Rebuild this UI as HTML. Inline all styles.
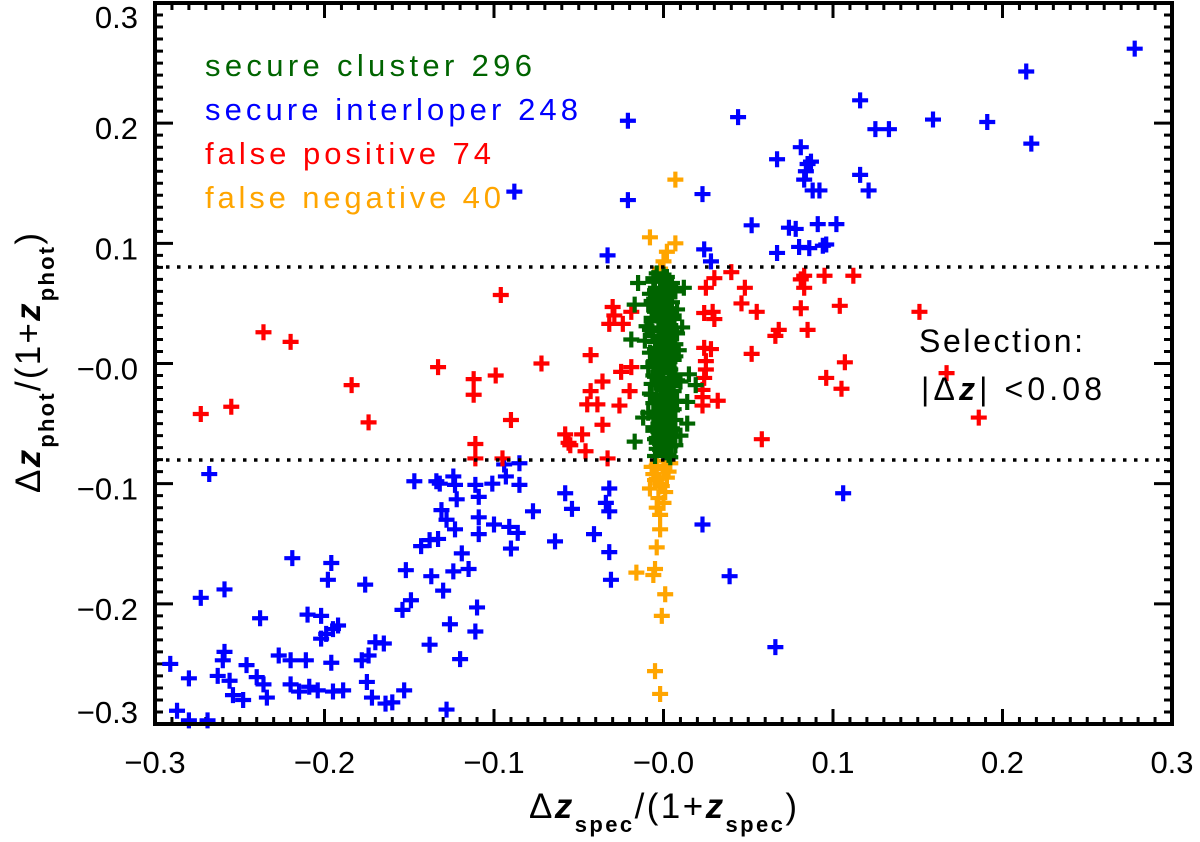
<!DOCTYPE html>
<html><head><meta charset="utf-8"><style>
html,body{margin:0;padding:0;background:#fff;}
svg{display:block;font-family:"Liberation Sans",sans-serif;}
</style></head><body>
<svg id="chart" width="1200" height="842" viewBox="0 0 1200 842" xmlns="http://www.w3.org/2000/svg">
<rect width="1200" height="842" fill="#fff"/>
<g id="ticks"></g>
<g id="points"></g>
<line x1="155" x2="1172" y1="267" y2="267" stroke="#000" stroke-width="3.5" stroke-dasharray="3.5 7.5"/>
<line x1="155" x2="1172" y1="460" y2="460" stroke="#000" stroke-width="3.5" stroke-dasharray="3.5 7.5"/>
<rect x="155" y="3" width="1017" height="721" fill="none" stroke="#000" stroke-width="4"/>
<g id="labels" font-size="31" fill="#000"></g>
<text x="205" y="76" font-size="31" fill="#006400" textLength="327">secure cluster 296</text>
<text x="205" y="120" font-size="31" fill="#0000ff" textLength="373">secure interloper 248</text>
<text x="205" y="164" font-size="31" fill="#ff0000" textLength="286">false positive 74</text>
<text x="205" y="208" font-size="31" fill="#ffa500" textLength="296">false negative 40</text>
<text x="919" y="352" font-size="32" fill="#000" textLength="164">Selection:</text>
<text x="921" y="400" font-size="32" fill="#000" textLength="181">|Δ<tspan font-style="italic" font-weight="bold">z</tspan>| &lt;0.08</text>
<text x="663" y="818" font-size="35" text-anchor="middle" fill="#000" textLength="268">Δ<tspan font-style="italic" font-weight="bold">z</tspan><tspan font-size="22" font-weight="bold" dy="14">spec</tspan><tspan dy="-14">/(1+</tspan><tspan font-style="italic" font-weight="bold">z</tspan><tspan font-size="22" font-weight="bold" dy="14">spec</tspan><tspan dy="-14">)</tspan></text>
<text x="0" y="0" font-size="35" text-anchor="middle" fill="#000" textLength="260" transform="translate(40,363) rotate(-90)">Δ<tspan font-style="italic" font-weight="bold">z</tspan><tspan font-size="22" font-weight="bold" dy="14">phot</tspan><tspan dy="-14">/(1+</tspan><tspan font-style="italic" font-weight="bold">z</tspan><tspan font-size="22" font-weight="bold" dy="14">phot</tspan><tspan dy="-14">)</tspan></text>
</svg>
<script>
const xTickValues=[-0.3,-0.2,-0.1,0,0.1,0.2,0.3];
const xTickLabels=["−0.3","−0.2","−0.1","−0.0","0.1","0.2","0.3"];
const yTickValues=[0.3,0.2,0.1,0,-0.1,-0.2,-0.3];
const yTickLabels=["0.3","0.2","0.1","−0.0","−0.1","−0.2","−0.3"];
const clusterX=[-.004,.002,-.006,.004,-.001,.007,-.008,.001,-.004,.005,-.009,.000,.008,-.005,.003,-.002,.006,-.007,.001,-.010,.004,-.003,.008,-.006,.002,-.011,.000,.005,-.004,.009,-.008,.002,-.002,.006,-.006,.001,-.009,.004,-.003,.007,-.005,.000,.010,-.007,.003,-.001,.006,-.008,.002,-.004,.008,-.006,.001,-.002,.005,-.009,.003,-.004,.007,-.001,.002,-.006,.005,-.003,.000,.006,-.005,.002,-.002,.004,-.004,.001,.003,
.000,-.002,.003,-.005,.002,-.003,.004,-.001,-.007,.003,-.003,.006,-.001,-.005,.004,-.002,.007,-.004,.003,-.001,-.006,.005,-.002,.002,-.003,.004,-.005,.000,-.002,.004,-.004,.001,
-.015,-.017,.012,.015,.019,.014,.014,-.017,-.019,-.012,.011,.010,
-.006,.005,-.002,.003,-.007,.001,-.004,.006,-.001,.004,-.008,.002,-.003,.007,-.005,.000,.005,-.006,.003,-.002,.008,-.004,.001,-.007,.004,-.001,.006,-.005,.002,-.003,.005,-.006,.000,.003,-.004,.007,-.002,.001,-.005,.004];
const clusterY=[.075,.072,.068,.066,.063,.060,.058,.056,.053,.051,.049,.047,.045,.043,.041,.039,.037,.035,.033,.031,.029,.027,.025,.023,.021,.019,.017,.015,.013,.011,.009,.007,.005,.003,.001,-.001,-.003,-.005,-.007,-.009,-.011,-.013,-.015,-.017,-.019,-.021,-.023,-.025,-.027,-.029,-.031,-.033,-.035,-.037,-.039,-.041,-.043,-.045,-.047,-.049,-.051,-.053,-.055,-.057,-.059,-.061,-.063,-.065,-.067,-.069,-.071,-.073,-.076,
.074,.069,.064,.061,.057,.050,.046,.042,.038,.034,.030,.026,.022,.018,.014,.010,.006,.002,-.002,-.006,-.010,-.012,-.016,-.024,-.032,-.036,-.040,-.044,-.052,-.058,-.062,-.070,
.067,.049,.063,-.009,-.018,-.032,-.050,-.065,.020,-.045,.030,-.060,
.071,.067,.059,.055,.052,.048,.044,.040,.036,.032,.028,.024,.020,.016,.012,.008,.004,.000,-.004,-.008,-.014,-.018,-.022,-.026,-.030,-.034,-.038,-.042,-.046,-.050,-.054,-.056,-.060,-.064,-.066,-.068,-.072,-.074,-.077,-.078];
const interloperX=[.278,.214,.217,.191,.159,.125,.133,.116,.044,.081,.067,.085,.087,.084,.083,.088,.092,.116,.121,.023,.052,.074,.078,.091,.102,.067,.080,.086,.094,.096,.024,.028,
-.088,-.021,-.033,-.021,
-.268,-.147,-.134,-.132,-.124,-.123,-.111,-.101,-.093,-.085,-.094,-.085,
-.122,-.109,-.131,-.128,-.123,-.109,-.109,-.100,-.091,-.086,-.077,-.090,
-.058,-.054,-.032,-.034,-.032,-.064,-.041,-.032,-.031,
-.143,-.138,-.133,-.119,-.115,-.124,-.137,-.130,-.152,
-.149,-.154,-.110,-.111,-.126,-.138,-.120,-.128,
-.176,-.219,-.196,-.198,-.259,-.273,
-.238,-.210,-.202,-.199,-.195,-.192,-.202,
-.170,-.165,-.174,-.178,
-.259,-.260,-.246,-.227,-.220,-.211,-.196,
-.291,-.280,-.263,-.256,-.254,-.248,-.240,-.236,-.234,
-.220,-.215,-.209,-.204,-.195,-.189,-.175,-.172,-.164,-.160,-.153,
-.287,-.280,-.269,
.023,.039,.066,.106];
const interloperY=[.262,.243,.183,.201,.203,.195,.195,.219,.205,.180,.170,.166,.168,.160,.153,.144,.144,.157,.144,.141,.115,.113,.112,.116,.116,.092,.097,.096,.098,.099,.095,.085,
.143,.136,.090,.202,
-.092,-.098,-.098,-.100,-.094,-.101,-.101,-.100,-.094,-.101,-.084,-.083,
-.113,-.111,-.122,-.130,-.138,-.128,-.142,-.134,-.136,-.141,-.123,-.154,
-.108,-.121,-.104,-.116,-.123,-.148,-.142,-.157,-.180,
-.152,-.147,-.146,-.158,-.171,-.173,-.177,-.189,-.172,
-.197,-.205,-.203,-.223,-.217,-.234,-.246,-.288,
-.184,-.162,-.166,-.180,-.188,-.195,
-.212,-.209,-.210,-.225,-.221,-.218,-.229,
-.232,-.233,-.243,-.247,
-.240,-.247,-.251,-.243,-.247,-.247,-.249,
-.250,-.262,-.260,-.264,-.276,-.280,-.261,-.267,-.278,
-.267,-.273,-.269,-.272,-.273,-.272,-.265,-.278,-.283,-.282,-.272,
-.289,-.297,-.297,
-.134,-.177,-.236,-.108];
const falsePosX=[.040,.030,.025,.048,.046,.055,.083,.081,.083,.095,.112,.104,.081,.151,.029,.024,.030,.068,.066,.085,.028,.052,.025,.107,.167,.096,.105,.023,.032,.186,.058,
-.236,-.220,-.273,-.255,-.184,-.174,-.133,-.112,-.112,-.099,-.096,-.072,-.090,-.111,-.111,
-.043,-.030,-.019,-.032,-.024,-.029,
-.025,-.019,-.036,-.043,-.045,-.039,-.026,-.020,
-.036,-.058,-.048,-.055,-.046,-.033,
.024,.024,.023,.025,.023,-.095,-.056];
const falsePosY=[.076,.071,.063,.063,.050,.043,.073,.070,.063,.073,.073,.048,.046,.043,.043,.042,.037,.028,.023,.028,.012,.008,-.005,.001,-.008,-.012,-.021,-.028,-.031,-.045,-.063,
.026,.018,-.042,-.036,-.018,-.049,-.003,-.013,-.026,-.010,.057,0,-.047,-.067,-.079,
.007,.047,.043,.033,.033,.040,
-.007,-.003,-.015,-.023,-.034,-.034,-.035,-.023,
-.051,-.059,-.059,-.068,-.073,-.079,
.013,-.012,-.022,.002,-.035,-.079,-.066];
const falseNegX=[.007,-.008,.007,.002,.000,-.002,
-.004,-.002,-.002,-.004,-.005,-.016,-.006,.001,-.001,-.005,-.002,
-.004,.000,-.006,.002,-.002,-.008,.001,-.003,.003,-.005,-.001,.004,-.007,.000,-.004,.002];
const falseNegY=[.153,.105,.100,.093,.085,.079,
-.096,-.126,-.138,-.153,-.171,-.174,-.176,-.192,-.210,-.256,-.275,
-.085,-.088,-.092,-.095,-.100,-.104,-.107,-.112,-.090,-.097,-.102,-.083,-.086,-.116,-.120,-.081];

const L=155,R=1172,T=3,B=724;
function sx(v){return L+(v+0.3)/0.6*(R-L);}
function sy(v){return T+(0.3-v)/0.6*(B-T);}
const NS="http://www.w3.org/2000/svg";
const ticks=document.getElementById('ticks');
const labels=document.getElementById('labels');
let td="";
for(let i=-30;i<=30;i++){
  const v=i/100, major=(i%10===0);
  const xp=sx(v), yp=sy(v), lx=major?15:7, ly=major?18:8;
  td+=`M${xp},${B}V${B-lx}M${xp},${T}V${T+lx}`;
  td+=`M${L},${yp}H${L+ly}M${R},${yp}H${R-ly}`;
}
const tp=document.createElementNS(NS,'path');
tp.setAttribute('d',td);tp.setAttribute('stroke','#000');tp.setAttribute('stroke-width','3');tp.setAttribute('fill','none');


ticks.appendChild(tp);
xTickValues.forEach((v,i)=>{
  const t=document.createElementNS(NS,'text');
  t.setAttribute('x',sx(v));t.setAttribute('y',773);t.setAttribute('text-anchor','middle');
  t.textContent=xTickLabels[i];
  
  
  labels.appendChild(t);
});
yTickValues.forEach((v,i)=>{
  const t=document.createElementNS(NS,'text');
  let c=sy(v)+5; if(c<17)c=17; if(c>712)c=712;
  t.setAttribute('x',138);t.setAttribute('y',c+11);t.setAttribute('text-anchor','end');
  t.textContent=yTickLabels[i];
  
  
  labels.appendChild(t);
});
const pts=document.getElementById('points');
function series(xs,ys,color,name){
  const g=document.createElementNS(NS,'g');
  
  
  let d="";
  for(let i=0;i<xs.length;i++){
    const px=sx(xs[i]),py=sy(ys[i]);
    d+=`M${px-8},${py}H${px+8}M${px},${py-8}V${py+8}`;
  }
  const p=document.createElementNS(NS,'path');
  p.setAttribute('d',d);p.setAttribute('stroke',color);p.setAttribute('stroke-width','4.2');p.setAttribute('fill','none');
  
  
  g.appendChild(p);pts.appendChild(g);
}
series(interloperX,interloperY,'#0000ff','secure-interloper-series');
series(falsePosX,falsePosY,'#ff0000','false-positive-series');
series(falseNegX,falseNegY,'#ffa500','false-negative-series');
series(clusterX,clusterY,'#006400','secure-cluster-series');
</script>
</body></html>
